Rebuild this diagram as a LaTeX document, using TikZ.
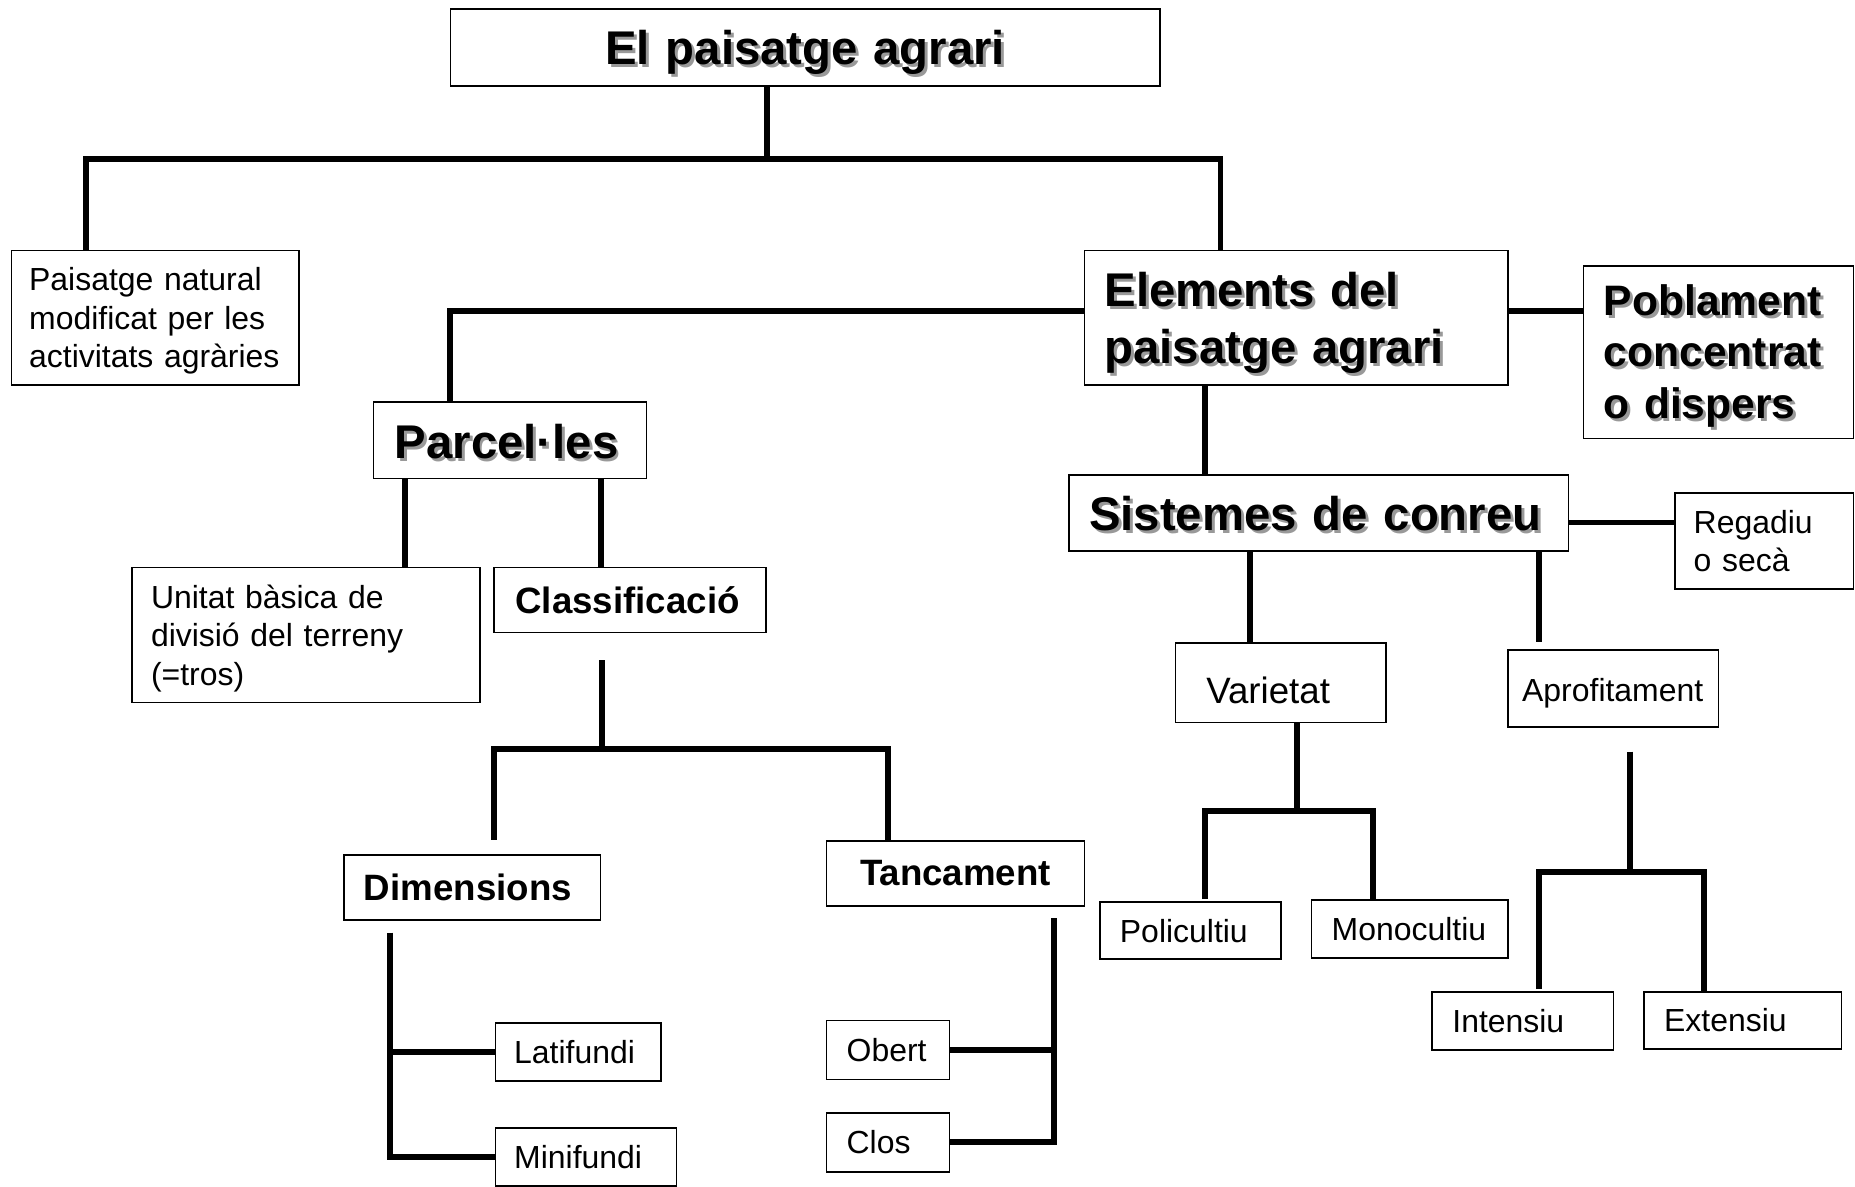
\documentclass[tikz,border=0pt]{standalone}
\usepackage{fontspec}
\setmainfont{Liberation Sans}
\usepackage{tikz}
\usetikzlibrary{positioning}

\definecolor{shadowgray}{gray}{0.6}
\newcommand{\shad}[1]{\makebox[0pt][l]{\kern2.5pt\raisebox{-2.5pt}{\textcolor{shadowgray}{#1}}}#1}

\tikzset{
  box/.style={draw, line width=1.3pt, anchor=north west, align=left, inner ysep=0pt},
  dropby/.style={execute at begin node={\rule{0pt}{#1}}},
  conn/.style={line width=5pt},
  hugetxt/.style={font=\bfseries\fontsize{40}{48}\selectfont},
  largetxt/.style={font=\bfseries\fontsize{36}{43.5}\selectfont},
  midtxt/.style={font=\bfseries\fontsize{31}{37}\selectfont},
  plaintxt/.style={font=\fontsize{27}{32.5}\selectfont},
}

\begin{document}
\begin{tikzpicture}[x=1pt, y=-1pt]
        \useasboundingbox (0,0) rectangle (1568,1003);

        % boxes
        \node[box, hugetxt, dropby=40pt, align=center, inner xsep=20pt, text width=560pt, minimum height=65pt] (title) at (380,7) {\shad{El paisatge agrari}};
        \node[box, plaintxt, dropby=25pt, inner xsep=15pt, text width=213pt, minimum height=114pt] (natural) at (9,211) {Paisatge natural\\modificat per les\\activitats\ agràries};
        \node[box, hugetxt, dropby=40pt, inner xsep=17pt, text width=324pt, minimum height=114pt] (elements) at (916,211) {\shad{Elements del}\\\shad{paisatge agrari}};
        \node[box, largetxt, dropby=35pt, inner xsep=17pt, text width=194pt, minimum height=146pt] (poblament) at (1338,224) {\shad{Poblament}\\\shad{concentrat}\\\shad{o dispers}};
        \node[box, hugetxt, dropby=34pt, inner xsep=18pt, text width=195pt, minimum height=65pt] (parceles) at (315,339) {\shad{Parcel·les}};
        \node[box, plaintxt, dropby=26pt, inner xsep=16pt, text width=262pt, minimum height=114pt] (unitat) at (111,479) {Unitat bàsica de\\divisió del terreny\\(=tros)};
        \node[box, midtxt, inner xsep=18pt, text width=194pt, minimum height=55pt] (classif) at (417,479) {Classificació};
        \node[box, midtxt, inner xsep=17pt, text width=183pt, minimum height=55pt] (dimensions) at (290,722) {Dimensions};
        \node[box, midtxt, align=center, inner xsep=17pt, text width=184pt, minimum height=55pt] (tancament) at (698,710) {Tancament};
        \node[box, plaintxt, inner xsep=16pt, text width=108pt, minimum height=49pt] (latifundi) at (418,864) {Latifundi};
        \node[box, plaintxt, inner xsep=16pt, text width=121pt, minimum height=49pt] (minifundi) at (418,953) {Minifundi};
        \node[box, plaintxt, inner xsep=17pt, text width=70pt, minimum height=50pt] (obert) at (698,862) {Obert};
        \node[box, plaintxt, inner xsep=17pt, text width=70pt, minimum height=50pt] (clos) at (698,940) {Clos};

        \node[box, hugetxt, dropby=32pt, inner xsep=17pt, text width=388pt, minimum height=64pt] (sistemes) at (903,401) {\shad{Sistemes de conreu}};
        \node[box, plaintxt, inner xsep=16pt, text width=119pt, minimum height=81pt] (regadiu) at (1415,416) {Regadiu\\o secà};
        \node[box, font=\fontsize{31}{37}\selectfont, dropby=36pt, inner xsep=26pt, text width=126pt, minimum height=67pt] (varietat) at (993,543) {Varietat};
        \node[box, plaintxt, dropby=27pt, inner xsep=12pt, text width=154pt, minimum height=65pt] (aprofit) at (1274,549) {Aprofitament};
        \node[box, plaintxt, inner xsep=17pt, text width=119pt, minimum height=48pt] (policultiu) at (929,762) {Policultiu};
        \node[box, plaintxt, inner xsep=17pt, text width=132pt, minimum height=49pt] (monocultiu) at (1108,760) {Monocultiu};
        \node[box, plaintxt, inner xsep=17pt, text width=119pt, minimum height=49pt] (intensiu) at (1210,838) {Intensiu};
        \node[box, plaintxt, inner xsep=17pt, text width=133pt, minimum height=48pt] (extensiu) at (1389,838) {Extensiu};

        % connectors
        \draw[conn] ([xshift=-32pt]title.south) -- ++(0,61) coordinate (top);
        \draw[conn] ([xshift=-58.5pt]natural.north) |- (top) -| ([xshift=-64pt]elements.north);
        \draw[conn] ([yshift=6pt]elements.east) coordinate (e1) -- (e1 -| poblament.west);
        \draw[conn] ([yshift=6pt]elements.west) -| ([xshift=-50.5pt]parceles.north);
        \draw[conn] ([xshift=-88.5pt]parceles.south) coordinate (p1) -- (p1 |- unitat.north);
        \draw[conn] ([xshift=76.5pt]parceles.south) coordinate (p2) -- (p2 |- classif.north);

        \draw[conn] ([xshift=-24pt,yshift=-23pt]classif.south) -- ++(0,75) coordinate (c1);
        \draw[conn] ([xshift=18.5pt,yshift=12pt]dimensions.north) |- (c1) -| ([xshift=-57pt]tancament.north);
        \draw[conn] ([xshift=-69.5pt,yshift=-10pt]dimensions.south) coordinate (d1) |- (minifundi.west);
        \draw[conn] (latifundi.west) -- (latifundi.west -| d1);
        \draw[conn] ([xshift=83pt,yshift=-10pt]tancament.south) coordinate (t1) |- (clos.east);
        \draw[conn] (obert.east) -- (obert.east -| t1);

        \draw[conn] ([xshift=-77pt]elements.south) coordinate (e2) -- (e2 |- sistemes.north);
        \draw[conn] ([yshift=-8pt]sistemes.east) coordinate (s1) -- (s1 -| regadiu.west);
        \draw[conn] ([xshift=-58pt]sistemes.south) coordinate (s2) -- (s2 |- varietat.north);
        \draw[conn] ([xshift=186pt]sistemes.south) coordinate (s3) -- (s3 |- varietat.north);

        \draw[conn] ([xshift=14pt]varietat.south) -- ++(0,74) coordinate (v1);
        \draw[conn] ([xshift=12.5pt,yshift=2pt]policultiu.north) |- (v1) -| ([xshift=-31pt]monocultiu.north);
        \draw[conn] ([xshift=14pt,yshift=-20pt]aprofit.south) -- ++(0,102) coordinate (a1);
        \draw[conn] ([xshift=13.5pt,yshift=2pt]intensiu.north) |- (a1) -| ([xshift=-32.5pt]extensiu.north);

    \end{tikzpicture}
\end{document}
